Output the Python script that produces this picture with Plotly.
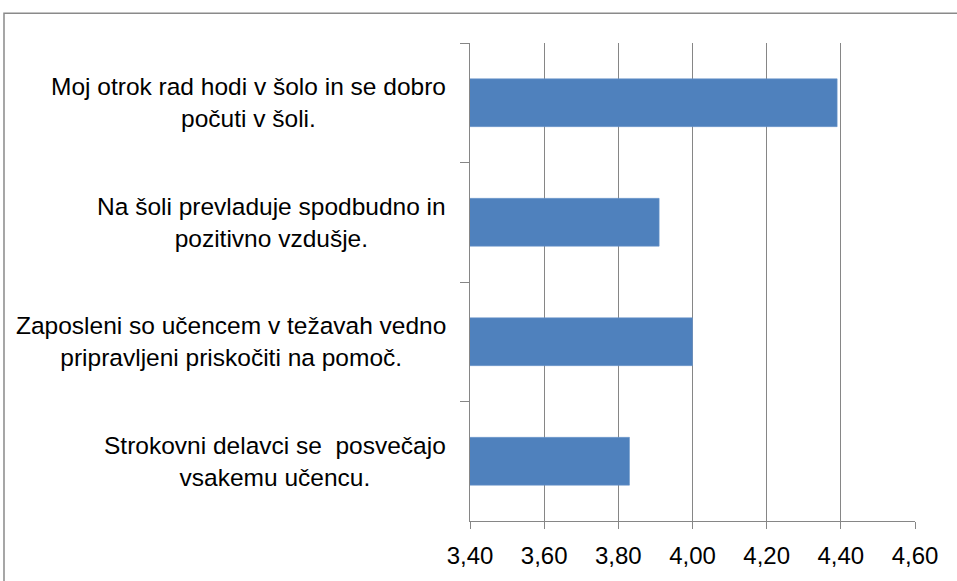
import plotly.graph_objects as go

# Survey statements (top to bottom) and their mean scores
statements = [
    "Moj otrok rad hodi v šolo in se dobro<br>počuti v šoli.",
    "Na šoli prevladuje spodbudno in<br>pozitivno vzdušje.",
    "Zaposleni so učencem v težavah vedno<br>pripravljeni priskočiti na pomoč.",
    "Strokovni delavci se\u00a0 posvečajo<br>vsakemu učencu.",
]
scores = [4.39, 3.91, 4.00, 3.83]

x_min, x_max, x_step = 3.40, 4.60, 0.20

AXIS_GREY = "#868686"
BAR_BLUE = "#4F81BD"
FONT = "Liberation Sans, Arial, sans-serif"

fig = go.Figure(
    go.Bar(
        y=statements,
        x=scores,
        orientation="h",
        marker=dict(color=BAR_BLUE, line=dict(color="#6A96CB", width=0.6)),
        hoverinfo="x+y",
    )
)

# Category labels drawn as centred, right-anchored annotations
for s in statements:
    fig.add_annotation(
        x=0, xref="paper", y=s, yref="y",
        text=s, showarrow=False,
        xanchor="right", yanchor="middle", align="center",
        xshift=-22,
        font=dict(family=FONT, size=24.5, color="#000000"),
    )

# Outer chart frame
fig.add_shape(
    type="rect", xref="paper", yref="paper",
    x0=-1.0472, x1=1.2, y0=-0.2, y1=1.0625,
    line=dict(color="#8a8a8a", width=1.5), fillcolor="rgba(0,0,0,0)",
    layer="below",
)

fig.update_layout(
    width=957, height=581,
    margin=dict(l=470, r=42, t=43, b=58),
    paper_bgcolor="white", plot_bgcolor="white",
    separators=",.",
    bargap=0.6,
    showlegend=False,
    font=dict(family=FONT, size=24, color="#000000"),
    xaxis=dict(
        range=[x_min, x_max], tick0=x_min, dtick=x_step,
        tickformat=".2f",
        showgrid=True, gridcolor=AXIS_GREY, gridwidth=1,
        showline=True, linecolor=AXIS_GREY, linewidth=1,
        ticks="outside", ticklen=7, tickcolor=AXIS_GREY,
        zeroline=False,
        tickfont=dict(family=FONT, size=24, color="#000000"),
        ticklabelstandoff=6,
    ),
    yaxis=dict(
        type="category", range=[3.5, -0.5],
        showticklabels=False,
        ticks="outside", tickson="boundaries", ticklen=9, tickcolor=AXIS_GREY,
        showline=True, linecolor=AXIS_GREY, linewidth=1,
        showgrid=False, zeroline=False,
    ),
)

fig.write_html("out.html")
